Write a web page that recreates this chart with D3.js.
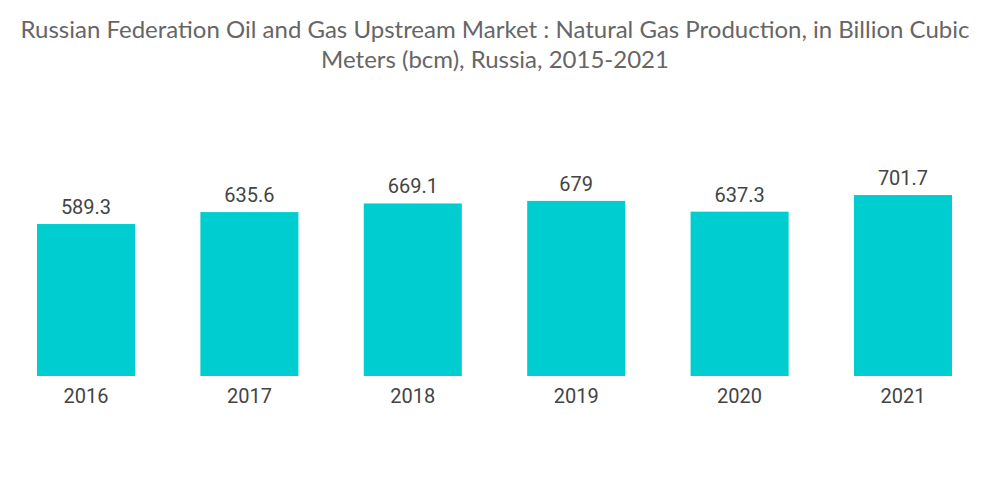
<!DOCTYPE html>
<html>
<head>
<meta charset="utf-8">
<script src="https://cdn.jsdelivr.net/npm/d3@7"></script>
<style>
    body { margin: 0; background: #fff; }
    .title { font-family: Lato, sans-serif; font-size: 24px; fill: #666; }
    .bar-fill { fill: #00CDD0; }
    .bar-text { font-family: Roboto, sans-serif; font-size: 20px; fill: #444; }
    .axis-text { font-family: Roboto, sans-serif; font-size: 20px; fill: #444; }
</style>
</head>
<body>
<div id="chart"></div>
<script>
const years = ['2016', '2017', '2018', '2019', '2020', '2021'];
const production = [589.3, 635.6, 669.1, 679, 637.3, 701.7];
const titleLines = [
    'Russian Federation Oil and Gas Upstream Market : Natural Gas Production, in Billion Cubic',
    'Meters (bcm), Russia, 2015-2021'
];

const width = 1000;
const height = 504;
const baseline = 376;

const svg = d3.select('#chart')
    .append('svg')
    .attr('width', width)
    .attr('height', height);

svg.selectAll('text.title')
    .data(titleLines)
    .enter()
    .append('text')
    .attr('class', 'title')
    .attr('x', width / 2 - 5)
    .attr('y', (d, i) => 38 + i * 30)
    .attr('text-anchor', 'middle')
    .text(d => d);

let xScale = d3.scaleBand()
    .domain(years)
    .range([4.3, 984.7])
    .paddingInner(0.4)
    .paddingOuter(0.2);

let yScale = d3.scaleLinear()
    .domain([0, 800])
    .range([baseline, baseline - 206.3]);

svg.selectAll('rect')
    .data(production)
    .enter()
    .append('rect')
    .attr('class', 'bar-fill')
    .attr('x', (d, i) => xScale(years[i]))
    .attr('y', d => yScale(d))
    .attr('width', xScale.bandwidth())
    .attr('height', d => baseline - yScale(d));

svg.selectAll('text.bar-text')
    .data(production)
    .enter()
    .append('text')
    .attr('class', 'bar-text')
    .attr('x', (d, i) => xScale(years[i]) + xScale.bandwidth() / 2)
    .attr('y', d => yScale(d) - 10)
    .attr('text-anchor', 'middle')
    .text(d => d);

svg.selectAll('text.axis-text')
    .data(years)
    .enter()
    .append('text')
    .attr('class', 'axis-text')
    .attr('x', d => xScale(d) + xScale.bandwidth() / 2)
    .attr('y', 403)
    .attr('text-anchor', 'middle')
    .text(d => d);
</script>
</body>
</html>
